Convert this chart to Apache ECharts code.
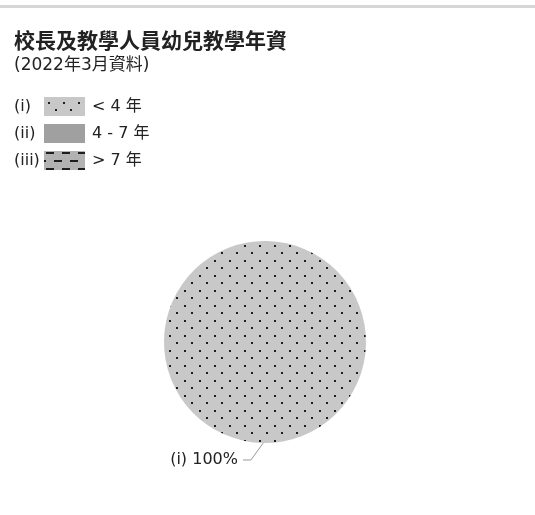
<!DOCTYPE html>
<html>
<head>
<meta charset="utf-8">
<script src="https://cdn.jsdelivr.net/npm/echarts@6/dist/echarts.min.js"></script>
<style>
  html, body { margin: 0; padding: 0; background: #fff; }
  #main { width: 535px; height: 515px; }
</style>
</head>
<body>
<div id="main"></div>
<script>
// 數據
const prefixes = ['(i)', '(ii)', '(iii)'];
const categories = ['< 4 年', '4 - 7 年', '> 7 年'];
const values = [100, 0, 0];

const FONT = '"DejaVu Sans", "Noto Sans CJK TC", sans-serif';

// 圖案填充
function dotPattern() {
  const c = document.createElement('canvas');
  c.width = 15; c.height = 15;
  const ctx = c.getContext('2d');
  ctx.fillStyle = '#c8c8c8';
  ctx.fillRect(0, 0, 15, 15);
  ctx.fillStyle = '#1e1e1e';
  ctx.fillRect(4, 5, 2, 2);
  ctx.fillRect(11, 12, 2, 2);
  return { image: c, repeat: 'repeat' };
}
function dashPattern() {
  const c = document.createElement('canvas');
  c.width = 16; c.height = 16;
  const ctx = c.getContext('2d');
  ctx.fillStyle = '#b2b2b2';
  ctx.fillRect(0, 0, 16, 16);
  ctx.fillStyle = '#1e1e1e';
  ctx.fillRect(2, 1, 8, 2);
  ctx.fillRect(10, 9, 6, 2);
  ctx.fillRect(0, 9, 2, 2);
  return { image: c, repeat: 'repeat' };
}
const fills = [dotPattern(), '#a0a0a0', dashPattern()];

const chart = echarts.init(document.getElementById('main'));

const pieData = categories.map((name, i) => ({
  name: name,
  value: values[i],
  itemStyle: { color: fills[i] },
  label: { show: values[i] > 0 },
  labelLine: { show: values[i] > 0 }
}));

chart.setOption({
  backgroundColor: '#fff',
  animation: false,
  title: {
    text: '校長及教學人員幼兒教學年資',
    subtext: '(2022年3月資料)',
    left: 14,
    top: 30,
    padding: 0,
    itemGap: 6,
    textStyle: { fontFamily: '"Noto Sans CJK TC", sans-serif', fontSize: 21, fontWeight: 'bold', color: '#222' },
    subtextStyle: { fontFamily: FONT, fontSize: 17, color: '#222' }
  },
  legend: {
    orient: 'vertical',
    left: 44,
    top: 97,
    padding: 0,
    itemWidth: 41,
    itemHeight: 19,
    itemGap: 8,
    icon: 'rect',
    selectedMode: false,
    data: categories,
    itemStyle: { borderWidth: 0 },
    textStyle: { fontFamily: FONT, fontSize: 16, color: '#222', padding: [0, 0, 0, 2] }
  },
  graphic: [
    { type: 'rect', shape: { x: 0, y: 5, width: 535, height: 3 }, style: { fill: '#d6d6d6' } }
  ].concat(prefixes.map((p, i) => ({
    type: 'text',
    x: 14,
    y: 107 + i * 27,
    style: { text: p, font: '16px ' + FONT, fill: '#222', verticalAlign: 'middle' }
  }))),
  series: [{
    type: 'pie',
    center: [265, 342],
    radius: 101,
    startAngle: 89,
    data: pieData,
    itemStyle: { borderWidth: 0 },
    emphasis: { disabled: true },
    label: {
      fontFamily: FONT,
      fontSize: 16,
      color: '#222',
      formatter: p => prefixes[p.dataIndex] + ' ' + p.percent + '%'
    },
    labelLine: {
      length: 17,
      length2: 8,
      lineStyle: { color: '#999', width: 1 }
    },
    labelLayout: function (params) {
      const pts = params.labelLinePoints;
      if (!pts) return {};
      const shift = -12;
      return {
        dx: shift,
        labelLinePoints: [pts[0], [pts[1][0] + shift, pts[1][1]], [pts[2][0] + shift, pts[2][1]]]
      };
    }
  }]
});
</script>
</body>
</html>
